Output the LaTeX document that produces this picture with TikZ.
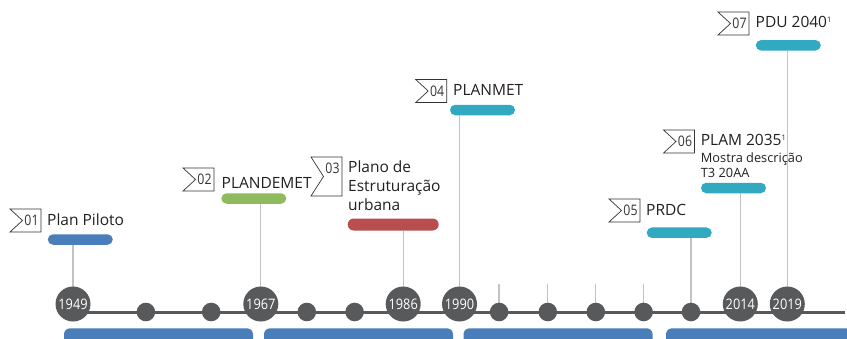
\documentclass[tikz,border=0pt]{standalone}
\usepackage{fontspec}
\setmainfont{Open Sans}
\newfontfamily\yearfont{Open Sans}[FakeStretch=0.88]
\newfontfamily\numfont{Open Sans}[FakeStretch=0.85]
\definecolor{tlblue}{HTML}{4A7EBB}
\definecolor{tlgreen}{HTML}{8DBB5E}
\definecolor{tlred}{HTML}{B84F4E}
\definecolor{tlteal}{HTML}{30A9C1}
\definecolor{tldark}{HTML}{58595B}
\definecolor{tlstem}{HTML}{C2C2C2}
\definecolor{tltext}{HTML}{231F20}
\pgfdeclarelayer{background}
\pgfsetlayers{background,main}
\begin{document}
\begin{tikzpicture}[x=1pt,y=-1pt,
  bigdot/.style={circle,fill=tldark,minimum size=35pt,inner sep=0pt,text=white,font=\yearfont\fontsize{14.5}{14.5}\selectfont},
  smalldot/.style={circle,fill=tldark,minimum size=18.6pt,inner sep=0pt},
  mainline/.style={draw=tldark,line width=3pt},
  stem/.style={draw=tlstem,line width=1.3pt},
  pill/.style={rectangle,rounded corners=5.25pt,minimum width=65pt,minimum height=10.5pt,inner sep=0pt},
  flagline/.style={draw=black!80,line width=0.7pt},
  flagnum/.style={inner sep=0pt,text=black!80,font=\numfont\fontsize{14.5}{14.5}\selectfont},
  title/.style={anchor=base west,inner sep=0pt,text=tltext,font=\fontsize{15.5}{19}\selectfont},
  subtitle/.style={anchor=base west,inner sep=0pt,text=tltext,font=\fontsize{12.8}{15}\selectfont},
  pics/flagpic/.style n args={3}{code={
    \draw[flagline] (0,0) -- (31,0) -- (31,#2) -- (0,#2) -- (12.5,#2/2) -- cycle;
    \node[flagnum] (-num) at (21.5,#3) {#1};
  }}
]
\useasboundingbox (0,0) rectangle (847,338);
\clip (0,0) rectangle (847,338);

% bars
\node[pill,fill=tlblue] (bar1) at (80.3,239.5) {};
\node[pill,fill=tlgreen] (bar2) at (253.8,198.5) {};
\node[pill,fill=tlred,minimum width=91pt,minimum height=12pt,rounded corners=6pt] (bar3) at (393.2,224.5) {};
\node[pill,fill=tlteal] (bar4) at (482.5,110) {};
\node[pill,fill=tlteal] (bar5) at (679.2,232.7) {};
\node[pill,fill=tlteal] (bar6) at (733.5,188) {};
\node[pill,fill=tlteal] (bar7) at (788.3,45.3) {};

% timeline nodes
\coordinate (lineend) at (845,312);
\node[bigdot] (c1949) at (73,304) {1949};
\node[smalldot] (d1) at (145.9,312) {};
\node[smalldot] (d2) at (211.2,312) {};
\node[bigdot] (c1967) at (260.8,304) {1967};
\node[smalldot] (d3) at (306.8,312) {};
\node[smalldot] (d4) at (354.6,312) {};
\node[bigdot] (c1986) at (403.2,304) {1986};
\node[bigdot] (c1990) at (459.5,304) {1990};
\node[smalldot] (d5) at (499.1,312) {};
\node[smalldot] (d6) at (547.8,312) {};
\node[smalldot] (d7) at (595.8,312) {};
\node[smalldot] (d8) at (643.6,312) {};
\node[smalldot] (d9) at (691,312) {};
\node[bigdot] (c2014) at (740.3,304) {2014};
\node[bigdot] (c2019) at (787.3,304) {2019};

\coordinate (t5) at (499.1,284);
\coordinate (t6) at (547.8,284);
\coordinate (t7) at (595.8,284);
\coordinate (t8) at (643.6,284);

\begin{pgfonlayer}{background}
\draw[stem] (bar1.south -| c1949) -- (c1949.center);
\draw[stem] (bar2.south -| c1967) -- (c1967.center);
\draw[stem] (bar3.south -| c1986) -- (c1986.center);
\draw[stem] (bar4.south -| c1990) -- (c1990.center);
\draw[stem] (bar5.south -| d9) -- (d9.center);
\draw[stem] (bar6.south -| c2014) -- (c2014.center);
\draw[stem] (bar7.south -| c2019) -- (c2019.center);
\draw[stem] (t5) -- (d5.center);
\draw[stem] (t6) -- (d6.center);
\draw[stem] (t7) -- (d7.center);
\draw[stem] (t8) -- (d8.center);
\draw[mainline] (c1949.center |- lineend) -- (lineend);
\end{pgfonlayer}

% bottom period bars
\fill[tlblue,rounded corners=6pt] (64,328.3) rectangle (253,346);
\fill[tlblue,rounded corners=6pt] (264,328.3) rectangle (453,346);
\fill[tlblue,rounded corners=6pt] (463.5,328.3) rectangle (652.6,346);
\fill[tlblue,rounded corners=6pt] (666,328.3) rectangle (870,346);

% flags
\pic (f01) at (10,209) {flagpic={01}{23}{11.5}};
\pic (f02) at (183,168) {flagpic={02}{23}{11.5}};
\pic (f03) at (311,157) {flagpic={03}{39}{11.5}};
\pic (f04) at (415.7,79.5) {flagpic={04}{23}{11.5}};
\pic (f05) at (609,199) {flagpic={05}{23}{11.5}};
\pic (f06) at (663.5,130) {flagpic={06}{23}{11.5}};
\pic (f07) at (718,12) {flagpic={07}{23}{11.5}};

% titles
\node[title] (l01) at (47,225) {Plan Piloto};
\node[title] (l02) at (221.5,188) {PLANDEMET};
\node[title,align=left] (l03) at (348,210.5) {Plano de\\Estruturação\\urbana};
\node[title] (l04) at (453,95) {PLANMET};
\node[title] (l05) at (646,215) {PRDC};
\node[title] (l06) at (700.7,145.7) {PLAM 2035\raisebox{5pt}{\fontsize{7.5}{7.5}\selectfont 1}};
\node[subtitle,align=left] (l06b) at (700.7,177.3) {Mostra descrição\\T3 20AA};
\node[title] (l07) at (755.5,27.7) {PDU 2040\raisebox{5pt}{\fontsize{7.5}{7.5}\selectfont 1}};
\end{tikzpicture}
\end{document}
